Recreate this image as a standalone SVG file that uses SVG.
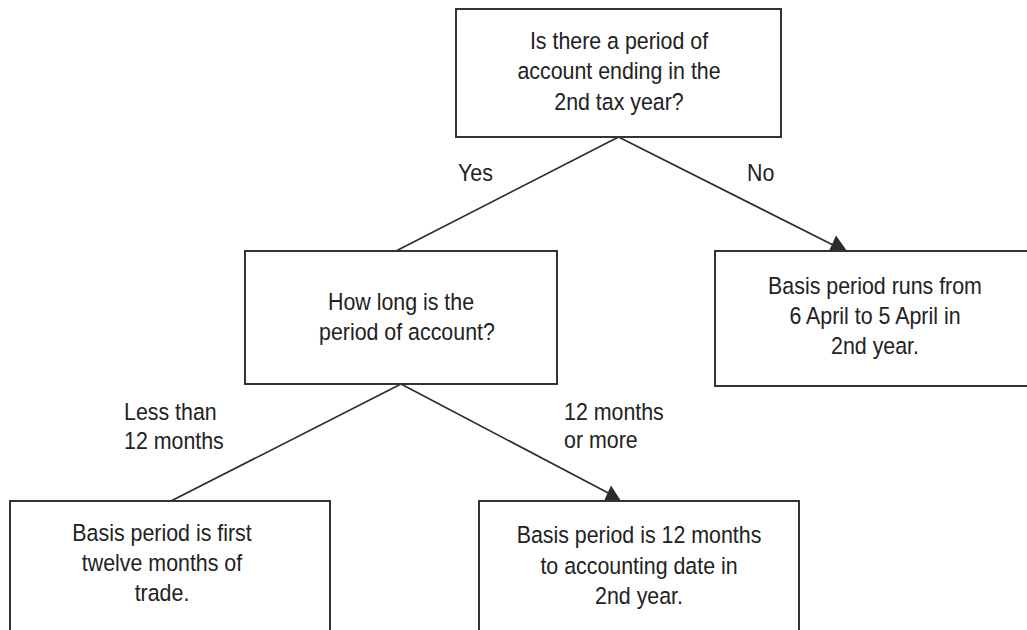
<svg xmlns="http://www.w3.org/2000/svg" width="1027" height="630" viewBox="0 0 1027 630">
<style>
.box{fill:#fff;stroke:#333;stroke-width:2}
.ln{stroke:#2b2b2b;stroke-width:1.6;fill:none}
.ah{fill:#2b2b2b;stroke:none}
text{font-family:"Liberation Sans",Arial,sans-serif;font-size:23.5px;fill:#222}
.c{text-anchor:middle}
</style>
<rect width="1027" height="630" fill="#fff"/>
<g id="connectors">
<line class="ln" x1="618.5" y1="137" x2="396" y2="251"/>
<line class="ln" x1="618.5" y1="137" x2="839" y2="248"/>
<polygon class="ah" points="829,251 836,235.5 847,251"/>
<line class="ln" x1="401" y1="384" x2="171" y2="501"/>
<line class="ln" x1="401" y1="384" x2="614" y2="496"/>
<polygon class="ah" points="604,501 611,485.5 621,501"/>
<text transform="translate(458 0) scale(0.91 1)" x="0" y="181.5">Yes</text>
<text transform="translate(747 0) scale(0.91 1)" x="0" y="181.5">No</text>
<text transform="translate(124 0) scale(0.91 1)"><tspan x="0" y="420">Less than</tspan><tspan x="0" y="449">12 months</tspan></text>
<text transform="translate(564 0) scale(0.91 1)"><tspan x="0" y="420">12 months</tspan><tspan x="0" y="448.5">or more</tspan></text>
</g>
<g id="q1">
<rect class="box" x="456" y="9" width="325" height="128"/>
<text class="c" transform="translate(619 0) scale(0.91 1)"><tspan x="0" y="49.5">Is there a period of</tspan><tspan x="0" y="79.5">account ending in the</tspan><tspan x="0" y="110">2nd tax year?</tspan></text>
</g>
<g id="q2">
<rect class="box" x="245" y="251" width="312" height="133"/>
<text class="c" transform="translate(401 0) scale(0.91 1)"><tspan x="0" y="310">How long is the</tspan><tspan x="6.5" y="340">period of account?</tspan></text>
</g>
<g id="r-no">
<rect class="box" x="715" y="251" width="320" height="135"/>
<text class="c" transform="translate(875 0) scale(0.91 1)"><tspan x="0" y="294">Basis period runs from</tspan><tspan x="0" y="324">6 April to 5 April in</tspan><tspan x="0" y="354">2nd year.</tspan></text>
</g>
<g id="r-less">
<rect class="box" x="10" y="501" width="320" height="140"/>
<text class="c" transform="translate(162 0) scale(0.91 1)"><tspan x="0" y="541">Basis period is first</tspan><tspan x="0" y="571">twelve months of</tspan><tspan x="0" y="601">trade.</tspan></text>
</g>
<g id="r-more">
<rect class="box" x="479" y="501" width="320" height="140"/>
<text class="c" transform="translate(639 0) scale(0.91 1)"><tspan x="0" y="543.5">Basis period is 12 months</tspan><tspan x="0" y="574">to accounting date in</tspan><tspan x="0" y="604.5">2nd year.</tspan></text>
</g>
</svg>
